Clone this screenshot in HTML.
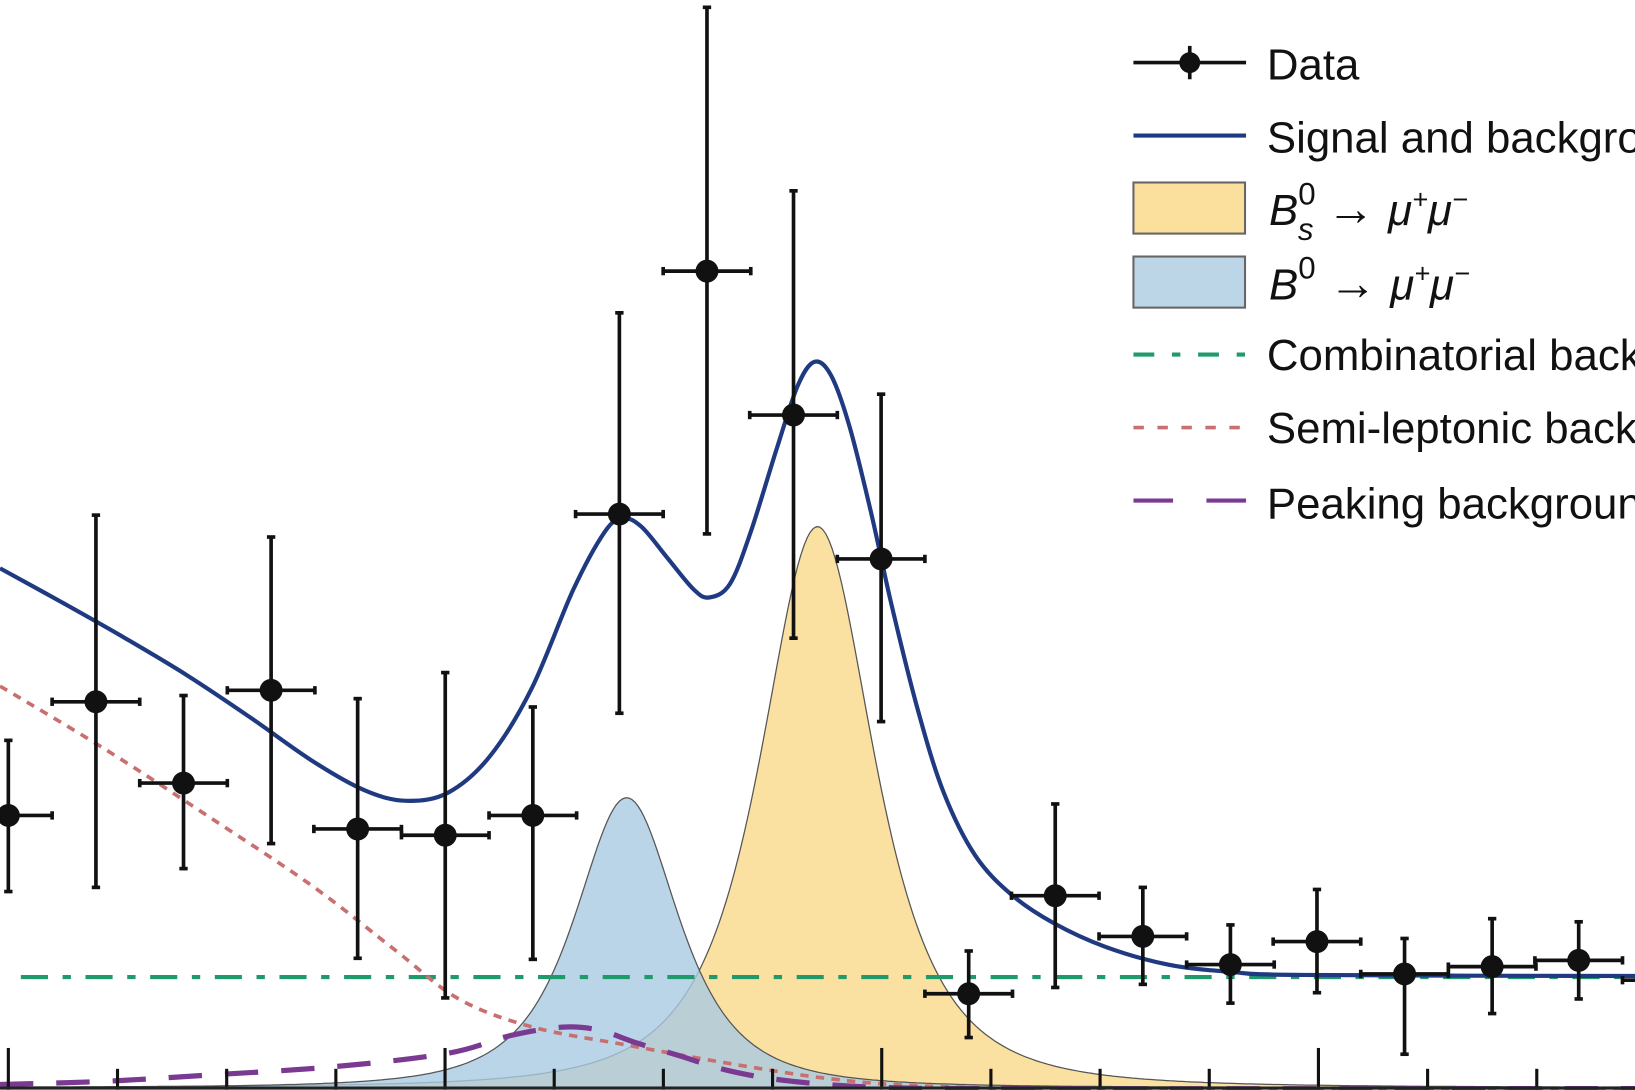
<!DOCTYPE html>
<html><head><meta charset="utf-8"><style>
html,body{margin:0;padding:0;background:#fff;overflow:hidden}
svg{display:block}
text{font-family:"Liberation Sans",sans-serif;fill:#111}
</style></head><body>
<svg id="s" width="1635" height="1090" viewBox="0 0 1568 1045.3" xmlns="http://www.w3.org/2000/svg">
<path id="bs" fill="#fbdf9c" fill-opacity="0.95" stroke="#555" stroke-width="1.2"/>
<path id="b0" fill="#a9cbe2" fill-opacity="0.8" stroke="#555" stroke-width="1.2"/>
<line x1="20" y1="937" x2="1568" y2="937" stroke="#1f9a6a" stroke-width="4" stroke-dasharray="26,14,8,14"/>
<path id="semi" fill="none" stroke="#c87070" stroke-width="3.5" stroke-dasharray="8,7"/>
<path id="peak" fill="none" stroke="#7a3a92" stroke-width="5" stroke-dasharray="32,22"/>
<path id="sig" fill="none" stroke="#1f3a80" stroke-width="4"/>
<g id="ticks" stroke="#111" stroke-width="3"></g>
<g id="data" stroke="#111" stroke-width="3.5" fill="#111"></g>
<line x1="0" y1="1043.5" x2="1568" y2="1043.5" stroke="#222" stroke-width="3"/>
<g stroke-width="4">
<line x1="1087" y1="60" x2="1195" y2="60" stroke="#111" stroke-width="3.5"/>
<line x1="1141" y1="44" x2="1141" y2="76" stroke="#111" stroke-width="3.5"/>
<circle cx="1141" cy="60" r="10" fill="#111"/>
<line x1="1087" y1="130" x2="1195" y2="130" stroke="#1f3a80"/>
<rect x="1087" y="175" width="107" height="49" fill="#fbdf9c" stroke="#666" stroke-width="2"/>
<rect x="1087" y="246" width="107" height="49" fill="#bcd6e8" stroke="#666" stroke-width="2"/>
<line x1="1087" y1="340" x2="1195" y2="340" stroke="#1f9a6a" stroke-dasharray="20,17,8,17"/>
<line x1="1087" y1="410" x2="1195" y2="410" stroke="#c87070" stroke-width="3.5" stroke-dasharray="10,13"/>
<line x1="1087" y1="480" x2="1195" y2="480" stroke="#7a3a92" stroke-dasharray="38,32"/>
</g>
<g font-size="42">
<text x="1215" y="76">Data</text>
<text x="1215" y="146">Signal and background</text>
<text x="1217" y="216" font-style="italic">B<tspan font-size="30" dy="-20" font-style="normal">0</tspan><tspan font-size="30" dx="-17" dy="34">s</tspan><tspan dy="-14" font-style="normal" font-size="46"> → </tspan><tspan>μ</tspan><tspan font-size="26" dy="-16">+</tspan><tspan dy="16">μ</tspan><tspan font-size="26" dy="-16">−</tspan></text>
<text x="1217" y="287" font-style="italic">B<tspan font-size="30" dy="-20" font-style="normal">0</tspan><tspan dy="20" font-style="normal" font-size="46"> → </tspan><tspan>μ</tspan><tspan font-size="26" dy="-16">+</tspan><tspan dy="16">μ</tspan><tspan font-size="26" dy="-16">−</tspan></text>
<text x="1215" y="355">Combinatorial background</text>
<text x="1215" y="425">Semi-leptonic background</text>
<text x="1215" y="497">Peaking background</text>
</g>
</svg>
<script>
const NS="http://www.w3.org/2000/svg";
function cr(p){let d="M"+p[0][0]+","+p[0][1];for(let i=0;i<p.length-1;i++){const a=p[Math.max(0,i-1)],b=p[i],c=p[i+1],e=p[Math.min(p.length-1,i+2)];
d+=" C"+(b[0]+(c[0]-a[0])/6).toFixed(1)+","+(b[1]+(c[1]-a[1])/6).toFixed(1)+" "+(c[0]-(e[0]-b[0])/6).toFixed(1)+","+(c[1]-(e[1]-b[1])/6).toFixed(1)+" "+c[0]+","+c[1];}return d;}
function pk(m,A,g){let d="M0,1043";for(let x=0;x<=1568;x+=3){const u=(x-m)/g;const f=1/Math.pow(1+u*u,1.6);d+=" L"+x+","+(1043-A*f).toFixed(1);}return d+" L1568,1043 Z";}
document.getElementById("bs").setAttribute("d",pk(784,538,88));
document.getElementById("b0").setAttribute("d",pk(601,278,80));
document.getElementById("sig").setAttribute("d",cr([[0,545],[60,578],[120,612],[180,648],[240,688],[300,730],[350,758],[390,768],[430,760],[470,725],[510,660],[550,565],[580,510],[597,497],[615,505],[640,535],[665,565],[680,573],[700,560],[720,510],[745,430],[765,370],[781,347],[797,360],[815,410],[835,490],[855,580],[880,680],[905,760],[935,820],[970,858],[1010,885],[1060,908],[1120,925],[1180,932],[1250,935],[1568,936]]));
document.getElementById("semi").setAttribute("d",cr([[0,658],[100,718],[200,783],[300,850],[380,912],[440,958],[511,985],[600,1002],[700,1020],[800,1035],[900,1042],[1100,1045],[1568,1045]]));
document.getElementById("peak").setAttribute("d",cr([[0,1040],[100,1037],[200,1031],[320,1023],[430,1010],[490,993],[540,985],[575,988],[610,1000],[650,1012],[700,1027],[760,1037],[850,1043],[1000,1044],[1568,1044]]));
const T=document.getElementById("ticks");
for(let i=0;i<15;i++){const x=8+i*104.7;const maj=(i%4==0);const l=document.createElementNS(NS,"line");
l.setAttribute("x1",x);l.setAttribute("x2",x);l.setAttribute("y1",maj?1005:1025);l.setAttribute("y2",1045);T.appendChild(l);}
const D=[[8,782,710,855],[92,673,494,851],[176,751,667,833],[260,662,515,809],[343,795,670,919],[427,801,645,957],[511,782,678,920],[594,493,300,684],[678,260,7,512],[761,398,183,612],[845,536,378,692],[929,953,912,995],[1012,859,771,947],[1096,898,851,944],[1180,925,887,962],[1263,903,853,952],[1347,934,900,1011],[1431,927,881,972],[1514,921,884,958],[1598,940,900,980]];
const G=document.getElementById("data");
function ln(a,b,c,d){const l=document.createElementNS(NS,"line");l.setAttribute("x1",a);l.setAttribute("y1",b);l.setAttribute("x2",c);l.setAttribute("y2",d);G.appendChild(l);}
for(const [x,y,t,b] of D){ln(x,t,x,b);ln(x-42,y,x+42,y);ln(x-4,t,x+4,t);ln(x-4,b,x+4,b);ln(x-42,y-4,x-42,y+4);ln(x+42,y-4,x+42,y+4);
const c=document.createElementNS(NS,"circle");c.setAttribute("cx",x);c.setAttribute("cy",y);c.setAttribute("r",11);c.setAttribute("stroke","none");G.appendChild(c);}
</script>
</body></html>
